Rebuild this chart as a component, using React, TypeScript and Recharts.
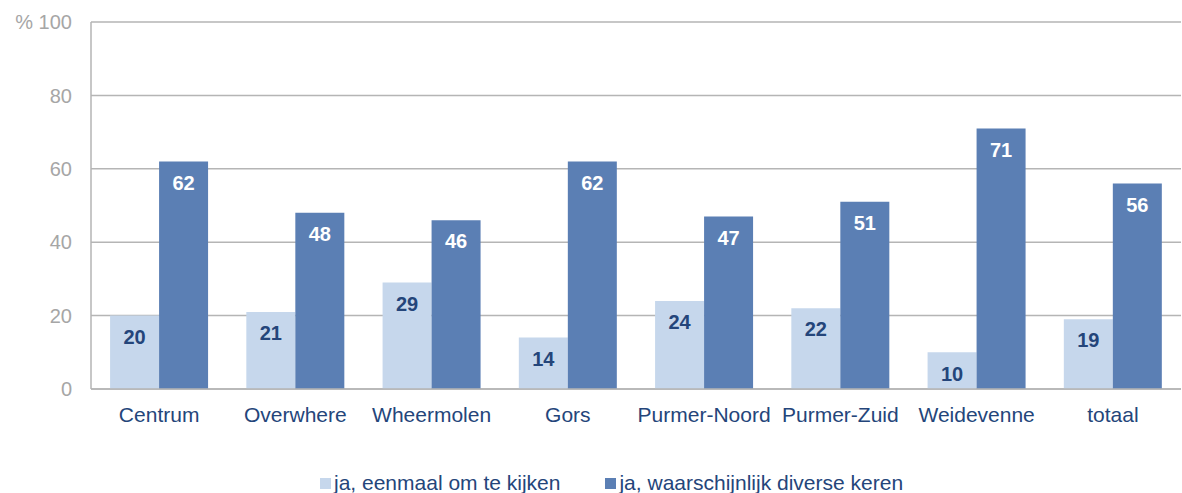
import React from 'react';
import { BarChart, Bar, XAxis, YAxis, CartesianGrid, Legend, LabelList } from 'recharts';

const categories = ['Centrum', 'Overwhere', 'Wheermolen', 'Gors', 'Purmer-Noord', 'Purmer-Zuid', 'Weidevenne', 'totaal'];
const eenmaal = [20, 21, 29, 14, 24, 22, 10, 19];
const diverse = [62, 48, 46, 62, 47, 51, 71, 56];
const yTicks = [0, 20, 40, 60, 80, 100];

const seriesNames = ['ja, eenmaal om te kijken', 'ja, waarschijnlijk diverse keren'];

const data = categories.map((name, i) => ({ name, eenmaal: eenmaal[i], diverse: diverse[i] }));

const LIGHT = '#C6D7EC';
const DARK = '#5B7FB4';
const TEXT = '#24457A';

const LegendContent = () => (
  <div style={{ display: 'flex', justifyContent: 'flex-start', paddingLeft: 320, paddingTop: 22, gap: 45, fontSize: 21, color: TEXT, lineHeight: '24px' }}>
    {seriesNames.map((n, i) => (
      <div key={n} style={{ display: 'flex', alignItems: 'center' }}>
        <span style={{ display: 'inline-block', width: 11, height: 11, background: i === 0 ? LIGHT : DARK, marginRight: 3 }} />
        <span>{n}</span>
      </div>
    ))}
  </div>
);

export default function App() {
  return (
    <div style={{ position: 'absolute', left: 0, top: 0, fontFamily: '"Liberation Sans", Arial, sans-serif', background: '#fff' }}>
      <BarChart
        width={1182}
        height={493}
        data={data}
        margin={{ top: 22, right: 1, left: 0, bottom: 0 }}
        barCategoryGap="14%"
        barGap={0}
      >
        <CartesianGrid vertical={false} stroke="#B5B5B5" strokeWidth={1.5} />
        <XAxis
          dataKey="name"
          tickLine={false}
          axisLine={{ stroke: '#B5B5B5', strokeWidth: 1.5 }}
          tick={{ fill: TEXT, fontSize: 21 }}
          tickMargin={12}
          height={60}
        />
        <YAxis
          domain={[0, 100]}
          ticks={yTicks}
          width={91}
          tickLine={false}
          axisLine={{ stroke: '#B5B5B5', strokeWidth: 1.5 }}
          tick={{ fill: '#A6A6A6', fontSize: 20 }}
          tickMargin={13}
          tickFormatter={(v: number) => (v === 100 ? '% 100' : String(v))}
        />
        <Legend verticalAlign="bottom" height={44} content={<LegendContent />} wrapperStyle={{ bottom: 0 }} />
        <Bar dataKey="eenmaal" name={seriesNames[0]} fill={LIGHT} isAnimationActive={false}>
          <LabelList dataKey="eenmaal" position="insideTop" offset={14} fill={TEXT} fontSize={20} fontWeight="bold" />
        </Bar>
        <Bar dataKey="diverse" name={seriesNames[1]} fill={DARK} isAnimationActive={false}>
          <LabelList dataKey="diverse" position="insideTop" offset={14} fill="#FFFFFF" fontSize={20} fontWeight="bold" />
        </Bar>
      </BarChart>
    </div>
  );
}
